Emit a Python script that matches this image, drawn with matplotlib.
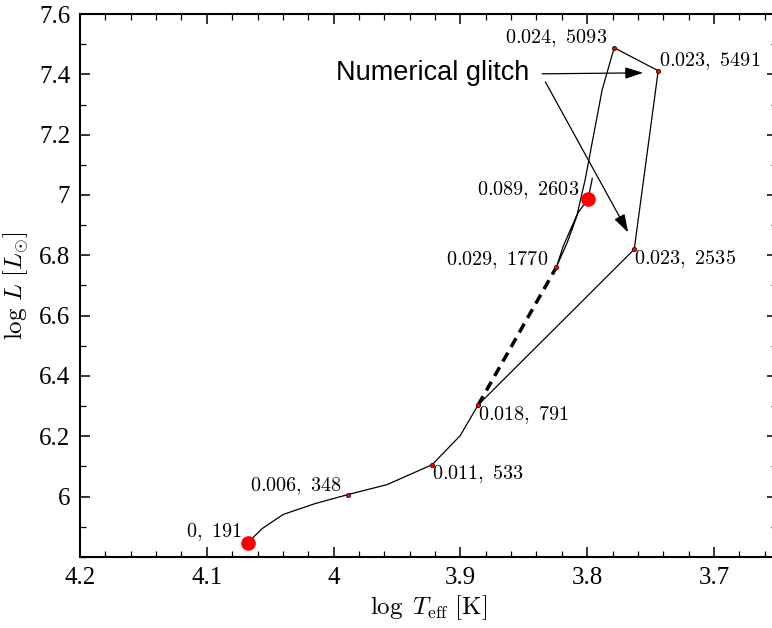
import matplotlib
matplotlib.use("Agg")
import matplotlib.pyplot as plt
from matplotlib.ticker import MultipleLocator

plt.rcParams['font.family'] = ['Liberation Serif', 'DejaVu Serif']
plt.rcParams['mathtext.fontset'] = 'cm'

# evolutionary track (log Teff, log L)
track_teff = [4.0675, 4.0564, 4.0398, 4.0146, 3.9886, 3.9578, 3.9223, 3.9002, 3.8860,
              3.7629, 3.7440, 3.7787, 3.7882, 3.8016, 3.8079, 3.8189, 3.8244,
              3.8157, 3.8071, 3.7992, 3.7960]
track_logl = [5.848, 5.894, 5.941, 5.977, 6.007, 6.040, 6.106, 6.202, 6.304,
              6.820, 7.412, 7.488, 7.349, 7.051, 6.936, 6.830, 6.760,
              6.843, 6.942, 6.988, 7.055]

# dashed connection
dash_teff = [3.8860, 3.8244]
dash_logl = [6.304, 6.760]

# labelled points
lab_teff = [3.9886, 3.9223, 3.8860, 3.7629, 3.7440, 3.7787, 3.8244]
lab_logl = [6.007, 6.106, 6.304, 6.820, 7.412, 7.488, 6.760]
lab_text = ['0.006, 348', '0.011, 533', '0.018, 791', '0.023, 2535',
            '0.023, 5491', '0.024, 5093', '0.029, 1770']
lab_off = [(-6, 3), (0, -14), (0, -15), (0, -15), (1, 5), (-7, 5), (-8, 2)]
lab_ha = ['right', 'left', 'left', 'left', 'left', 'right', 'right']

# big red points
big_teff = [4.0675, 3.7992]
big_logl = [5.848, 6.988]
big_text = ['0, 191', '0.089, 2603']
big_off = [(-6, 5), (-9, 4)]

# tick labels
xtick_vals = [4.2, 4.1, 4.0, 3.9, 3.8, 3.7]
xtick_labels = ['4.2', '4.1', '4', '3.9', '3.8', '3.7']
ytick_vals = [6.0, 6.2, 6.4, 6.6, 6.8, 7.0, 7.2, 7.4, 7.6]
ytick_labels = ['6', '6.2', '6.4', '6.6', '6.8', '7', '7.2', '7.4', '7.6']

fig = plt.figure(figsize=(7.72, 6.28), dpi=100)
ax = fig.add_axes([80/772, 1-557/628, 697.4/772, (557-14)/628])

ax.plot(track_teff, track_logl, color='black', lw=0.9)
ax.plot(dash_teff, dash_logl, color='black', lw=2.5, ls=(0, (2.9, 1.9)))
ax.plot(lab_teff, lab_logl, ls='none', marker='o', ms=3, mfc='red', mec='#400000', mew=0.6)
ax.plot(big_teff, big_logl, ls='none', marker='o', ms=9.5, mfc='red', mec='red')

def lbl(x, y, t, off, ha):
    ax.annotate(r'$' + t.replace(' ', r'\ ') + '$', xy=(x, y), xytext=(off[0]*0.72, off[1]*0.72),
                textcoords='offset points', ha=ha, va='baseline', fontsize=14.5,
                math_fontfamily='cm')

for x, y, t, o, h in zip(lab_teff, lab_logl, lab_text, lab_off, lab_ha):
    lbl(x, y, t, o, h)
for x, y, t, o in zip(big_teff, big_logl, big_text, big_off):
    lbl(x, y, t, o, 'right')

# numerical glitch annotation
ax.text(3.998, 7.405, 'Numerical glitch', family=['Liberation Sans', 'DejaVu Sans'],
        fontsize=19.5, ha='left', va='center')
arrow_kw = dict(arrowstyle='-|>,head_length=1.1,head_width=0.35', color='black', lw=0.9,
                shrinkA=0, shrinkB=0, mutation_scale=10)
ax.annotate('', xy=(3.7558, 7.405), xytext=(3.8355, 7.4017), arrowprops=arrow_kw)
ax.annotate('', xy=(3.7677, 6.876), xytext=(3.833, 7.375), arrowprops=arrow_kw)

ax.set_xlim(4.2, 3.65)
ax.set_ylim(5.8, 7.6)
ax.set_xticks(xtick_vals)
ax.set_xticklabels(xtick_labels)
ax.set_yticks(ytick_vals)
ax.set_yticklabels(ytick_labels)
ax.xaxis.set_minor_locator(MultipleLocator(0.02))
ax.yaxis.set_minor_locator(MultipleLocator(0.1))
ax.tick_params(axis='both', which='both', direction='in', top=True, right=True,
               bottom=True, left=True, labelsize=18, color='black')
ax.tick_params(axis='both', which='major', length=7, width=1.1, pad=7)
ax.tick_params(axis='both', which='minor', length=4, width=0.9)
for s in ax.spines.values():
    s.set_linewidth(1.5)

ax.set_xlabel(r'$\log\ T_{\rm eff}\ [{\rm K}]$', fontsize=18, math_fontfamily='cm', labelpad=3)
ax.set_ylabel(r'$\log\,L\ [L_{\odot}]$', fontsize=18, math_fontfamily='cm', labelpad=6)

fig.savefig('out.png', dpi=100)
